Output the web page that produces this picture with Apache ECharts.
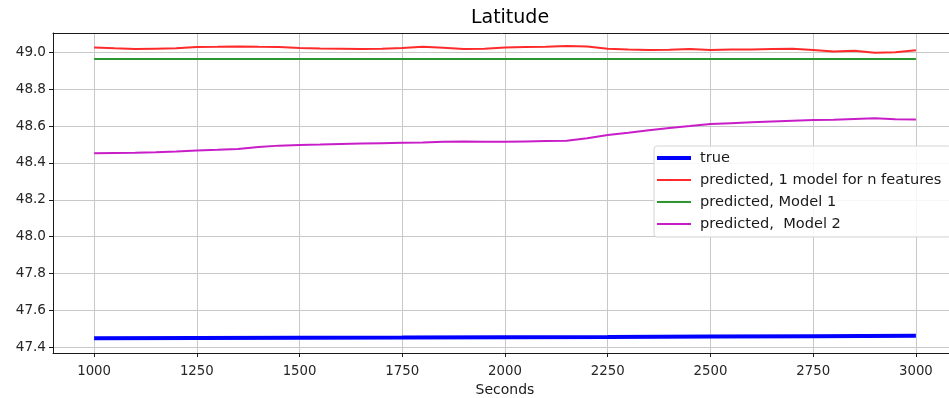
<!DOCTYPE html>
<html>
<head>
<meta charset="utf-8">
<script src="https://cdn.jsdelivr.net/npm/echarts@6/dist/echarts.min.js"></script>
<style>
  html, body { margin: 0; padding: 0; background: #fff; }
  #chart { width: 949px; height: 398px; }
</style>
</head>
<body>
<div id="chart"></div>
<script>
// Time axis (seconds), sampled every 50 s
const seconds = [1000,1050,1100,1150,1200,1250,1300,1350,1400,1450,1500,1550,1600,1650,1700,1750,1800,1850,1900,1950,
                 2000,2050,2100,2150,2200,2250,2300,2350,2400,2450,2500,2550,2600,2650,2700,2750,2800,2850,2900,2950,3000];

// Predicted latitude, single model for n features
const predNFeatures = [49.027,49.022,49.018,49.020,49.022,49.029,49.030,49.032,49.030,49.029,49.023,49.021,49.020,49.018,49.019,
                       49.023,49.030,49.025,49.018,49.020,49.027,49.029,49.031,49.034,49.032,49.020,49.016,49.013,49.014,49.018,
                       49.013,49.015,49.016,49.018,49.020,49.013,49.004,49.009,48.998,49.001,49.011];

// Predicted latitude, Model 2
const predModel2 = [48.453,48.454,48.455,48.458,48.462,48.467,48.471,48.476,48.486,48.494,48.498,48.500,48.503,48.505,48.507,
                    48.509,48.511,48.515,48.516,48.515,48.515,48.517,48.519,48.521,48.534,48.552,48.564,48.577,48.590,48.600,
                    48.611,48.616,48.621,48.625,48.629,48.633,48.635,48.639,48.643,48.637,48.636];

// Predicted latitude, Model 1 (constant)
const model1Seconds = [1000, 3000];
const predModel1 = [48.964, 48.964];

// True latitude
const trueSeconds = [1000,1250,1500,1750,2000,2250,2500,2750,3000];
const trueLat = [47.449,47.451,47.452,47.453,47.455,47.456,47.458,47.460,47.462];

// Tick labels
const xTicks = [1000,1250,1500,1750,2000,2250,2500,2750,3000];
const yTicks = [47.4,47.6,47.8,48.0,48.2,48.4,48.6,48.8,49.0];

const zip = (xs, ys) => xs.map((x, i) => [x, ys[i]]);

const FONT = 'DejaVu Sans';
const chart = echarts.init(document.getElementById('chart'), null, { renderer: 'canvas' });

const lineSeries = (name, data, color, width) => ({
  name, type: 'line', data,
  symbol: 'none', showSymbol: false,
  lineStyle: { color, width },
  itemStyle: { color },
  emphasis: { disabled: true },
  z: 3
});

// Legend handles: horizontal bars of the series' line thickness (bounds padded to 34x14)
const thickHandle = 'path://M0,0M0,5H34V9H0ZM34,14';
const thinHandle = 'path://M0,0M0,6H34V8H0ZM34,14';

// The plot runs past the right edge of the canvas (x range 900..3100)
const X_MIN = 900, X_MAX = 3100;

chart.setOption({
  animation: false,
  backgroundColor: '#ffffff',
  title: {
    text: 'Latitude',
    left: 505, top: 4, textAlign: 'center',
    textStyle: { fontFamily: FONT, fontSize: 19, fontWeight: 'normal', color: '#000' }
  },
  grid: { left: 53, top: 33, width: 904, height: 320, show: false, outerBoundsMode: 'none', containLabel: false },
  legend: {
    orient: 'vertical',
    left: 654, top: 146,
    itemWidth: 34, itemHeight: 14, itemGap: 6,
    padding: [4, 10, 5, 3],
    backgroundColor: 'rgba(255,255,255,0.85)',
    borderColor: '#d4d4d4', borderWidth: 1, borderRadius: 3,
    itemStyle: { borderWidth: 0 },
    textStyle: { fontFamily: FONT, fontSize: 14.6, lineHeight: 16, color: '#1a1a1a', padding: [0, 0, 0, 4] },
    data: [
      { name: 'true', icon: thickHandle },
      { name: 'predicted, 1 model for n features', icon: thinHandle },
      { name: 'predicted, Model 1', icon: thinHandle },
      { name: 'predicted,  Model 2', icon: thinHandle }
    ]
  },
  xAxis: [{
    type: 'value', min: X_MIN, max: X_MAX, position: 'bottom',
    name: 'Seconds', nameLocation: 'middle', nameGap: 30,
    nameTextStyle: { fontFamily: FONT, fontSize: 14, color: '#1a1a1a' },
    axisLine: { show: true, onZero: false, lineStyle: { color: '#1a1a1a', width: 1 } },
    axisTick: { show: true, length: 4, customValues: xTicks, lineStyle: { color: '#1a1a1a' } },
    axisLabel: { customValues: xTicks, margin: 12, fontFamily: FONT, fontSize: 13.3, color: '#262626',
                 formatter: v => String(v) },
    splitLine: { show: true, lineStyle: { color: '#c8c8c8', width: 1 } }
  }, {
    type: 'value', min: X_MIN, max: X_MAX, position: 'top',
    axisLine: { show: true, onZero: false, lineStyle: { color: '#1a1a1a', width: 1 } },
    axisTick: { show: false }, axisLabel: { show: false }, splitLine: { show: false }
  }],
  yAxis: {
    type: 'value', min: 47.369, max: 49.105,
    axisLine: { show: true, onZero: false, lineStyle: { color: '#1a1a1a', width: 1 } },
    axisTick: { show: true, length: 4, customValues: yTicks, lineStyle: { color: '#1a1a1a' } },
    axisLabel: { customValues: yTicks, margin: 7, fontFamily: FONT, fontSize: 13.6, color: '#262626',
                 formatter: v => v.toFixed(1) },
    splitLine: { show: true, lineStyle: { color: '#c8c8c8', width: 1 } }
  },
  series: [
    lineSeries('true', zip(trueSeconds, trueLat), '#0000ff', 4),
    lineSeries('predicted, 1 model for n features', zip(seconds, predNFeatures), '#ff2a2a', 2),
    lineSeries('predicted, Model 1', zip(model1Seconds, predModel1), '#2e962e', 2),
    lineSeries('predicted,  Model 2', zip(seconds, predModel2), '#c81ec8', 2)
  ]
});
</script>
</body>
</html>
